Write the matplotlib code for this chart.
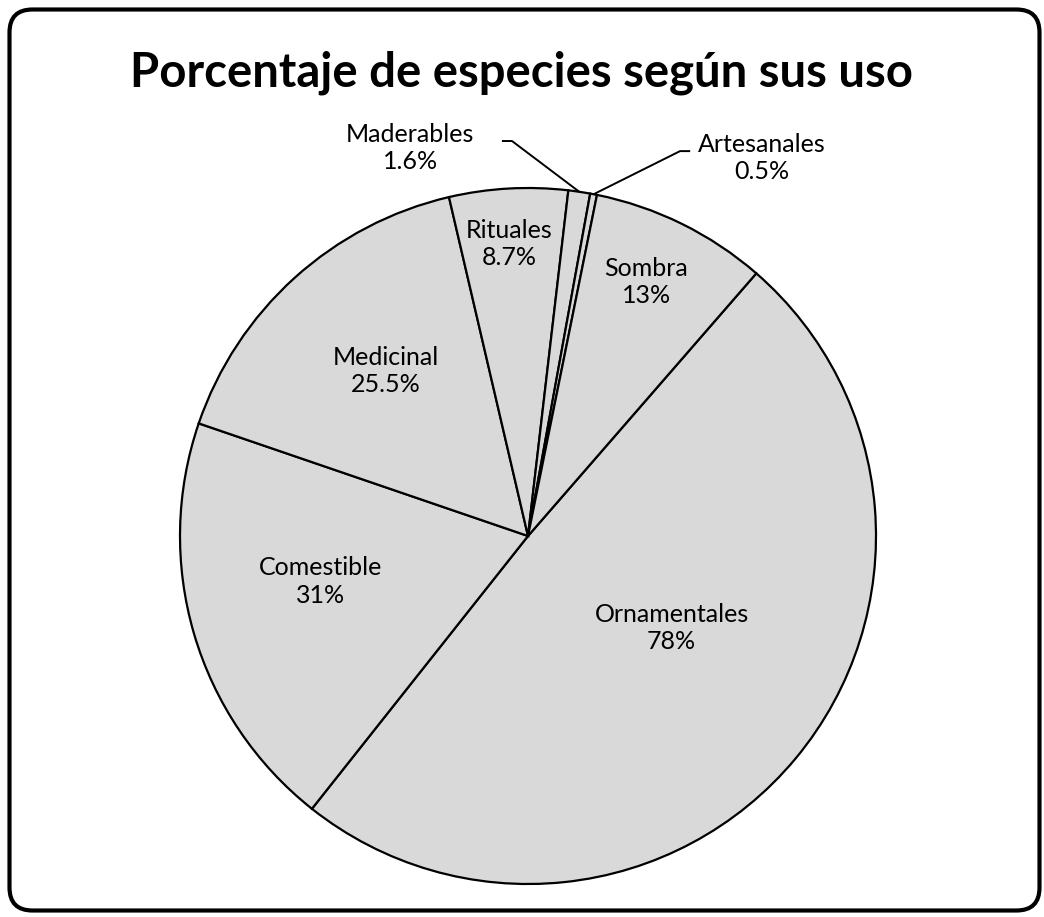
import numpy as np
import matplotlib
matplotlib.use("Agg")
import matplotlib.pyplot as plt
from matplotlib.patches import FancyBboxPatch

# ---- data ----
categories = ["Ornamentales", "Comestible", "Medicinal", "Rituales",
              "Maderables", "Artesanales", "Sombra"]
values = [78, 31, 25.5, 8.7, 1.6, 0.5, 13]
value_labels = ["78%", "31%", "25.5%", "8.7%", "1.6%", "0.5%", "13%"]
title = "Porcentaje de especies según sus uso"

# label placement (radius fraction, angle shift in degrees) for inside labels
inside_place = {
    "Ornamentales": (0.49, 7.0),
    "Comestible": (0.61, -4.0),
    "Medicinal": (0.626, -1.5),
    "Rituales": (0.84, 0.5),
    "Sombra": (0.805, 1.3),
}
# outside labels: text centre and leader-line elbow (data units, radius = 1)
outside_place = {
    "Maderables": {"text": (-0.339, 1.115), "elbow": [(-0.075, 1.135), (-0.046, 1.135)]},
    "Artesanales": {"text": (0.672, 1.086), "elbow": [(0.466, 1.106), (0.437, 1.106)]},
}

W, H, DPI = 1044, 917, 100
FONT = "Lato"
fig = plt.figure(figsize=(W / DPI, H / DPI), dpi=DPI)
fig.patch.set_facecolor("white")

# rounded border
border = FancyBboxPatch((9.5 / W, 6.5 / H), (1030 / W), (901 / H),
                        boxstyle="round,pad=0,rounding_size=0.022",
                        transform=fig.transFigure, fill=False,
                        edgecolor="black", linewidth=3.0, zorder=0,
                        mutation_aspect=W / H)
fig.patches.append(border)

fig.text(522 / W, 1 - 73 / H, title, ha="center", va="center",
         fontsize=34, fontweight="bold", family=FONT)

cx, cy, R = 528, 536, 348
ax = fig.add_axes([(cx - R) / W, (H - cy - R) / H, 2 * R / W, 2 * R / H])

start = 41.0  # degrees clockwise from 12 o'clock
wedges, _ = ax.pie(values, radius=1, startangle=90 - start, counterclock=False,
                   colors=["#D9D9D9"] * len(values),
                   wedgeprops=dict(edgecolor="black", linewidth=1.6))
ax.set_xlim(-1, 1)
ax.set_ylim(-1, 1)
ax.set_aspect("equal")
ax.axis("off")
for w in wedges:
    w.set_clip_on(False)

fs = 18
for w, cat, lab in zip(wedges, categories, value_labels):
    mid = np.deg2rad((w.theta1 + w.theta2) / 2)
    if cat in inside_place:
        r, shift = inside_place[cat]
        a = mid + np.deg2rad(shift)
        ax.text(r * np.cos(a), r * np.sin(a), f"{cat}\n{lab}", ha="center",
                va="center", fontsize=fs, family=FONT, linespacing=1.22)
    else:
        p = outside_place[cat]
        tx, ty = p["text"]
        ax.text(tx, ty, f"{cat}\n{lab}", ha="center", va="center",
                fontsize=fs, family=FONT, linespacing=1.22, clip_on=False)
        (x0, y0), (x1, y1) = p["elbow"]
        ax.plot([x0, x1, np.cos(mid)], [y0, y1, np.sin(mid)], color="black",
                lw=1.4, clip_on=False, solid_capstyle="butt")

fig.savefig("out.png", dpi=DPI)
